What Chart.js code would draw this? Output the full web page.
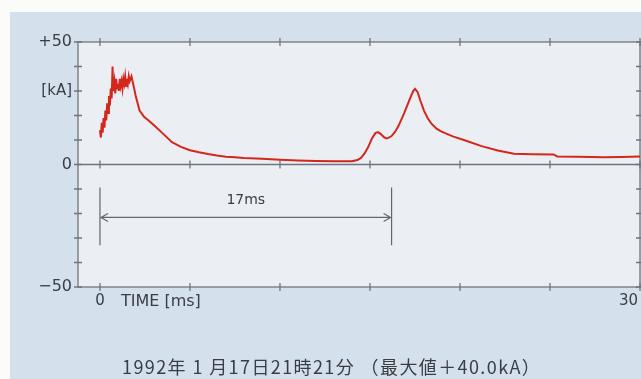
<!DOCTYPE html>
<html>
<head>
<meta charset="utf-8">
<script src="https://cdn.jsdelivr.net/npm/chart.js@4/dist/chart.umd.min.js"></script>
<style>
  html, body { margin: 0; padding: 0; background: #fbfbf9; }
  #wrap { width: 641px; height: 379px; position: relative; }
</style>
</head>
<body>
<div id="wrap"><canvas id="chart" width="641" height="379"></canvas></div>
<script>
// current waveform, time in ms, current in kA
const timeMs = [
  0.00, 0.05, 0.10, 0.15, 0.20, 0.25, 0.30, 0.35, 0.40, 0.45, 0.50, 0.55, 0.60, 0.65,
  0.70, 0.73, 0.80, 0.85, 0.90, 0.95, 1.00, 1.05, 1.10, 1.15, 1.20, 1.25, 1.30, 1.35,
  1.40, 1.45, 1.50, 1.55, 1.60, 1.65, 1.75, 1.90, 2.00, 2.20, 2.45, 2.70, 3.00, 3.50,
  4.00, 4.50, 5.00, 5.50, 6.00, 6.50, 7.00, 7.50, 8.00, 9.00, 10.0, 11.0, 12.0, 13.0,
  14.0, 14.3, 14.5, 14.7, 14.9, 15.1, 15.3, 15.45, 15.6, 15.8, 15.95, 16.2, 16.4, 16.6,
  16.9, 17.2, 17.4, 17.5, 17.65, 17.8, 18.0, 18.2, 18.4, 18.7, 18.95,
  19.6, 20.3, 21.2, 22.1, 23.0, 24.0, 25.2, 25.4, 26.5, 28.0, 29.0, 30.0
];
const currentKA = [
  14, 11, 17, 13, 19, 15, 22, 18, 25, 21, 28, 24, 31, 27,
  40, 30, 34, 29, 35, 31, 33, 30, 35, 32, 34, 31, 35, 33,
  36, 32, 35, 33, 36, 34, 36, 31, 27.5, 22, 19.5, 18, 16, 12.6,
  9.1, 7.2, 5.8, 5.0, 4.3, 3.7, 3.2, 3.0, 2.7, 2.3, 1.9, 1.6, 1.4, 1.3,
  1.3, 1.8, 2.7, 4.5, 7.1, 10.5, 12.8, 13.2, 12.4, 11.0, 10.6, 11.6, 13.4, 16,
  21, 26.5, 30, 30.9, 29.5, 26, 22, 19, 16.8, 14.6, 13.5,
  11.5, 9.8, 7.5, 5.7, 4.4, 4.2, 4.1, 3.3, 3.2, 3.0, 3.1, 3.3
];

const xTicks = [0, 5, 10, 15, 20, 25, 30];
const yTicks = [-50, -40, -30, -20, -10, 0, 10, 20, 30, 40, 50];
const yLabels = { 50: '+50', 0: '0', '-50': '\u221250' };
const kaLabelAt = 30;

// 17 ms interval annotation (in data units)
const spanStart = 0;
const spanEnd = 16.2;
const spanTop = -9.4;
const spanBottom = -33;
const spanArrowY = -21.6;
const spanTextY = -14.6;
const spanText = '17ms';

const caption = '1992年 1 月17日21時21分 （最大値＋40.0kA）';

const FONT = '"DejaVu Sans", "Noto Sans CJK JP", sans-serif';
const CJK = '"Noto Sans CJK JP", "DejaVu Sans", sans-serif';
const INK = '#3a3d44';
const AXIS = '#70757c';

const decor = {
  id: 'decor',
  beforeDraw(chart) {
    const { ctx, chartArea: a } = chart;
    ctx.save();
    ctx.fillStyle = '#fbfbf9';
    ctx.fillRect(0, 0, chart.width, chart.height);
    ctx.fillStyle = '#d4e1ed';
    ctx.fillRect(10, 12, chart.width - 10, chart.height - 12);
    ctx.fillStyle = '#ebeff4';
    ctx.fillRect(a.left, a.top, a.right - a.left, a.bottom - a.top);
    ctx.restore();
  },
  beforeDatasetsDraw(chart) {
    const { ctx, chartArea: a, scales: { x, y } } = chart;
    ctx.save();
    ctx.strokeStyle = AXIS;
    ctx.lineWidth = 1.3;
    ctx.strokeRect(a.left, a.top, a.right - a.left, a.bottom - a.top);
    const y0 = y.getPixelForValue(0);
    ctx.beginPath();
    ctx.moveTo(a.left, y0);
    ctx.lineTo(a.right, y0);
    ctx.stroke();
    // x ticks on top, zero line and bottom
    ctx.beginPath();
    xTicks.forEach(v => {
      const px = x.getPixelForValue(v);
      [a.top, y0, a.bottom].forEach(py => {
        ctx.moveTo(px, py - 4);
        ctx.lineTo(px, py + 4);
      });
    });
    // y ticks on left and right
    yTicks.forEach(v => {
      const py = y.getPixelForValue(v);
      ctx.moveTo(a.left - 4, py);
      ctx.lineTo(a.left + 4, py);
      ctx.moveTo(a.right - 4, py);
      ctx.lineTo(a.right + 4, py);
    });
    ctx.stroke();

    // labels
    ctx.fillStyle = INK;
    ctx.font = '16px ' + FONT;
    ctx.textBaseline = 'middle';
    ctx.textAlign = 'right';
    Object.keys(yLabels).forEach(k => {
      ctx.fillText(yLabels[k], a.left - 6, y.getPixelForValue(+k));
    });
    ctx.font = '15px ' + FONT;
    ctx.fillText('[kA]', a.left - 6, y.getPixelForValue(kaLabelAt));
    ctx.textBaseline = 'top';
    ctx.textAlign = 'center';
    ctx.font = '15px ' + FONT;
    ctx.fillText('0', x.getPixelForValue(0), a.bottom + 7);
    ctx.textAlign = 'left';
    ctx.font = '16px ' + FONT;
    ctx.fillText('TIME [ms]', x.getPixelForValue(0) + 21, a.bottom + 7);
    ctx.textAlign = 'right';
    ctx.font = '15px ' + FONT;
    ctx.fillText('30', x.getPixelForValue(30) - 2, a.bottom + 7);

    // 17 ms span
    const xs = x.getPixelForValue(spanStart), xe = x.getPixelForValue(spanEnd);
    const yt = y.getPixelForValue(spanTop), yb = y.getPixelForValue(spanBottom);
    const ya = y.getPixelForValue(spanArrowY);
    ctx.strokeStyle = '#63676e';
    ctx.lineWidth = 1.2;
    ctx.beginPath();
    ctx.moveTo(xs, yt); ctx.lineTo(xs, yb);
    ctx.moveTo(xe, yt); ctx.lineTo(xe, yb);
    ctx.moveTo(xs + 1, ya); ctx.lineTo(xe - 1, ya);
    ctx.moveTo(xs + 8, ya - 4); ctx.lineTo(xs + 1, ya); ctx.lineTo(xs + 8, ya + 4);
    ctx.moveTo(xe - 8, ya - 4); ctx.lineTo(xe - 1, ya); ctx.lineTo(xe - 8, ya + 4);
    ctx.stroke();
    ctx.fillStyle = INK;
    ctx.font = '14px ' + FONT;
    ctx.textAlign = 'center';
    ctx.textBaseline = 'middle';
    ctx.fillText(spanText, (xs + xe) / 2, y.getPixelForValue(spanTextY));

    // caption
    ctx.font = '18px ' + CJK;
    ctx.letterSpacing = '1.4px';
    ctx.textAlign = 'left';
    ctx.textBaseline = 'middle';
    ctx.fillText(caption, 122, 367);
    ctx.restore();
  }
};

new Chart(document.getElementById('chart'), {
  type: 'line',
  data: {
    datasets: [{
      data: timeMs.map((t, i) => ({ x: t, y: currentKA[i] })),
      borderColor: '#d3261c',
      borderWidth: 2,
      pointRadius: 0,
      tension: 0,
      fill: false
    }]
  },
  options: {
    responsive: false,
    animation: false,
    layout: { padding: { left: 78, top: 42, right: 1, bottom: 92 } },
    plugins: { legend: { display: false }, tooltip: { enabled: false } },
    scales: {
      x: { type: 'linear', min: -1.22, max: 30, display: false },
      y: { min: -50, max: 50, display: false }
    }
  },
  plugins: [decor]
});
</script>
</body>
</html>
